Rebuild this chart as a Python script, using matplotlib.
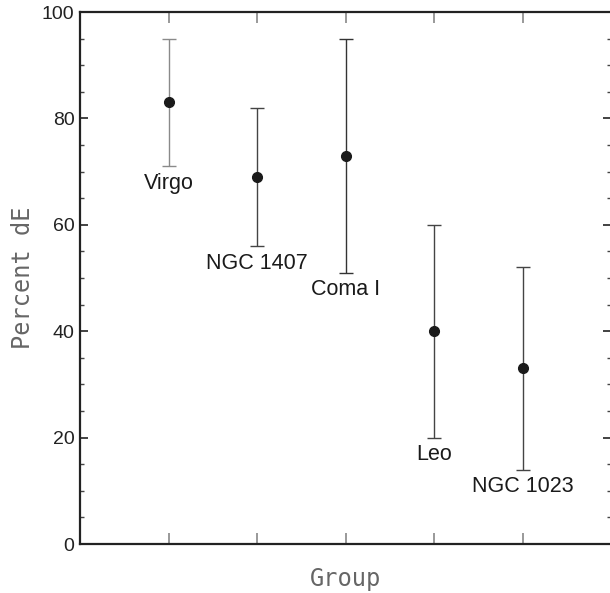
import matplotlib
matplotlib.use("Agg")
import matplotlib.pyplot as plt
from matplotlib.ticker import MultipleLocator

groups = ["Virgo", "NGC 1407", "Coma I", "Leo", "NGC 1023"]
percent_de = [83, 69, 73, 40, 33]
upper = [95, 82, 95, 60, 52]
lower = [71, 56, 51, 20, 14]
bar_colors = ["#8a8a8a", "#444444", "#333333", "#444444", "#444444"]

xpos = list(range(1, len(groups) + 1))

fig = plt.figure(figsize=(6.10, 5.93), dpi=100)
ax = fig.add_axes([0.1311, 0.0826, 0.871, 0.8971])

for x, y, hi, lo, c in zip(xpos, percent_de, upper, lower, bar_colors):
    ax.errorbar(x, y, yerr=[[y - lo], [hi - y]], fmt="o", color="#1a1a1a",
                ecolor=c, elinewidth=1.0, capsize=5, capthick=1.0, markersize=7)
    ax.annotate(groups[x - 1], (x, lo), xytext=(0, -17), textcoords="offset pixels",
                ha="center", va="center", fontsize=15.5, family="Liberation Sans",
                color="#1a1a1a")

ax.set_xlim(0, 6)
ax.set_ylim(0, 100)
ax.set_xticks(xpos)
ax.set_xticklabels([])
ax.yaxis.set_major_locator(MultipleLocator(20))
ax.yaxis.set_minor_locator(MultipleLocator(5))

ax.tick_params(axis="x", direction="in", top=True, bottom=True, length=8,
               width=1.2, color="#888888")
ax.tick_params(axis="y", which="major", direction="in", left=True, right=True,
               length=6, width=1.2, color="#222222", labelsize=14, pad=4)
ax.tick_params(axis="y", which="minor", direction="in", left=True, right=True,
               length=3, width=1.0, color="#444444")
for lab in ax.get_yticklabels():
    lab.set_family("Liberation Sans")
    lab.set_color("#222222")

for s in ax.spines.values():
    s.set_linewidth(1.6)
    s.set_color("#222222")

ax.set_xlabel("Group", fontsize=17, family="DejaVu Sans Mono", color="#666666",
              va="center")
ax.set_ylabel("Percent dE", fontsize=17, family="DejaVu Sans Mono", color="#666666",
              va="center")
ax.xaxis.set_label_coords(0.5, -0.066)
ax.yaxis.set_label_coords(-0.107, 0.5)

fig.savefig("out.png", dpi=100)
